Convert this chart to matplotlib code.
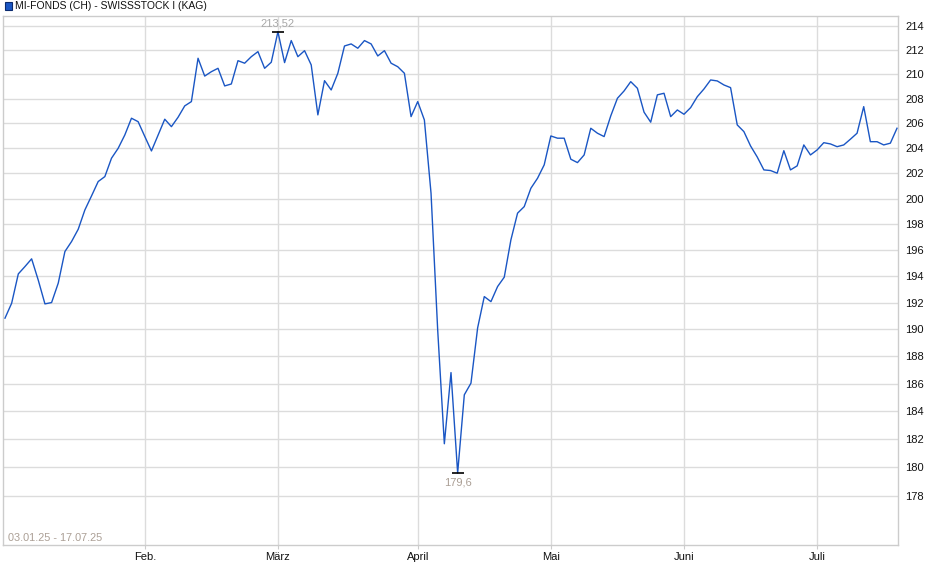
import matplotlib
matplotlib.use('Agg')
import matplotlib.pyplot as plt
import matplotlib.patches as mpatches
from matplotlib.ticker import FixedLocator, NullLocator, FixedFormatter, NullFormatter

plt.rcParams['font.family'] = ['Liberation Sans', 'DejaVu Sans']

series_name = 'MI-FONDS (CH) - SWISSSTOCK I (KAG)'
date_range_label = '03.01.25 - 17.07.25'

# daily closing values (trading days 03.01.25 - 17.07.25)
values = [
    190.84, 191.96, 194.18, 194.74, 195.33, 193.70, 191.91, 192.01, 193.48, 195.89,
    196.66, 197.61, 199.11, 200.21, 201.34, 201.73, 203.19, 203.98, 205.05, 206.40,
    206.12, 204.93, 203.77, 205.05, 206.32, 205.72, 206.48, 207.40, 207.75, 211.31,
    209.84, 210.20, 210.48, 209.03, 209.19, 211.11, 210.90, 211.44, 211.86, 210.48,
    210.98, 213.52, 210.95, 212.78, 211.44, 211.94, 210.76, 206.67, 209.46, 208.70,
    210.07, 212.33, 212.50, 212.14, 212.78, 212.50, 211.50, 211.94, 210.90, 210.61,
    210.07, 206.53, 207.75, 206.26, 200.42, 189.96, 181.67, 186.81, 179.60, 185.19,
    186.04, 190.11, 192.46, 192.08, 193.22, 193.93, 196.79, 198.86, 199.37, 200.81,
    201.60, 202.66, 204.97, 204.79, 204.79, 203.11, 202.84, 203.45, 205.59, 205.19,
    204.92, 206.59, 208.02, 208.62, 209.38, 208.84, 206.89, 206.08, 208.30, 208.43,
    206.53, 207.07, 206.72, 207.26, 208.15, 208.78, 209.52, 209.44, 209.11, 208.89,
    205.86, 205.32, 204.17, 203.29, 202.26, 202.21, 202.00, 203.79, 202.26, 202.58,
    204.25, 203.45, 203.85, 204.43, 204.33, 204.11, 204.25, 204.71, 205.19, 207.34,
    204.51, 204.51, 204.25, 204.39, 205.59,
]

month_labels = ['Feb.', 'März', 'April', 'Mai', 'Juni', 'Juli']
month_pos = [21, 41, 62, 82, 102, 122]   # index of first trading day of month
y_ticks = list(range(178, 215, 2))

W, H = 940, 579
fig = plt.figure(figsize=(W / 100, H / 100), dpi=100)
ax = fig.add_axes([3 / W, (H - 545) / H, 895 / W, 529 / H])

x = list(range(len(values)))
ax.plot(x, values, color='#1a56c4', lw=1.0, zorder=3)

ax.set_yscale('log')
ax.set_ylim(174.6, 214.84)
ax.set_xlim(-0.3, len(values) - 1 + 0.15)

ax.yaxis.set_major_locator(FixedLocator(y_ticks))
ax.yaxis.set_minor_locator(NullLocator())
ax.yaxis.set_major_formatter(FixedFormatter([str(t) for t in y_ticks]))
ax.yaxis.set_minor_formatter(NullFormatter())
ax.yaxis.tick_right()
ax.tick_params(axis='y', length=0, pad=5, labelsize=8, labelcolor='#111111')

ax.set_xticks(month_pos)
ax.set_xticklabels(month_labels)
ax.xaxis.set_minor_locator(NullLocator())
ax.tick_params(axis='x', length=3, color='#cccccc', pad=2, labelsize=8, labelcolor='#111111')

ax.grid(True, color='#dcdcdc', lw=1.0, zorder=0)
for s in ax.spines.values():
    s.set_color('#cccccc')
    s.set_linewidth(1.0)

# max / min markers
imax = max(range(len(values)), key=lambda i: values[i])
imin = min(range(len(values)), key=lambda i: values[i])
vmax, vmin = values[imax], values[imin]
ax.plot([imax], [vmax], marker='_', color='black', ms=9, mew=1.2, zorder=4)
ax.plot([imin], [vmin], marker='_', color='black', ms=9, mew=1.2, zorder=4)
ax.annotate(f'{vmax:g}'.replace('.', ','), (imax, vmax), xytext=(0, 2.5),
            textcoords='offset points', ha='center', va='bottom',
            color='#a8a8a8', fontsize=8)
ax.annotate(f'{vmin:g}'.replace('.', ','), (imin, vmin), xytext=(0, -3.5),
            textcoords='offset points', ha='center', va='top',
            color='#ab9f95', fontsize=8)

ax.text(0.0056, 0.004, date_range_label, transform=ax.transAxes,
        ha='left', va='bottom', color='#ab9f95', fontsize=7.8)

# legend
fig.patches.append(mpatches.Rectangle((5 / W, (H - 10) / H), 7 / W, 8 / H,
                                      transform=fig.transFigure,
                                      facecolor='#1a56c4', edgecolor='#0b2a6e', lw=0.8))
fig.text(15 / W, (H - 6) / H, series_name, ha='left', va='center',
         fontsize=7.5, color='#111111')

fig.savefig('out.png', dpi=100)
